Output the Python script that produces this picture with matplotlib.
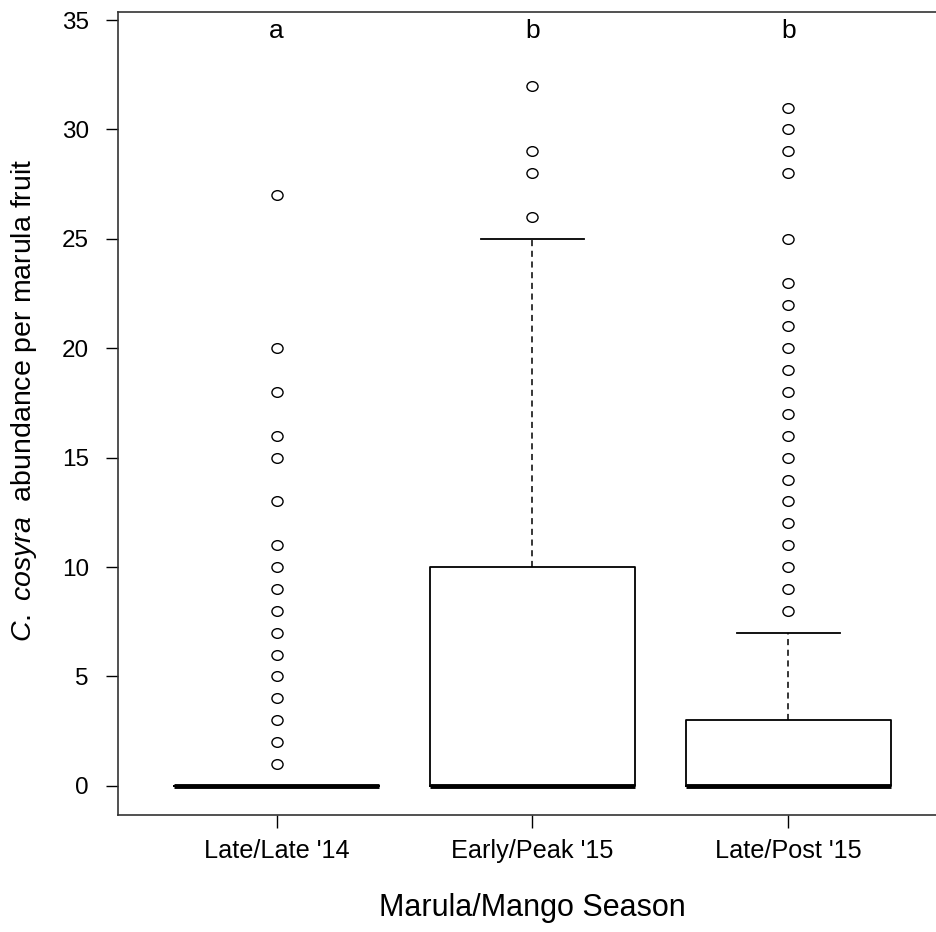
import matplotlib
matplotlib.use("Agg")
import matplotlib.pyplot as plt
from matplotlib.path import Path
from matplotlib.transforms import Affine2D

plt.rcParams['font.family'] = ['Liberation Sans', 'DejaVu Sans']
plt.rcParams['mathtext.fontset'] = 'custom'
plt.rcParams['mathtext.it'] = 'Liberation Sans:italic'
plt.rcParams['mathtext.rm'] = 'Liberation Sans'

categories = ["Late/Late '14", "Early/Peak '15", "Late/Post '15"]
q1 = [0, 0, 0]
medians = [0, 0, 0]
q3 = [0, 10, 3]
whisker_low = [0, 0, 0]
whisker_high = [0, 25, 7]
outliers = [
    [1, 2, 3, 4, 5, 6, 7, 8, 9, 10, 11, 13, 15, 16, 18, 20, 27],
    [26, 28, 29, 32],
    [8, 9, 10, 11, 12, 13, 14, 15, 16, 17, 18, 19, 20, 21, 22, 23, 25, 28, 29, 30, 31],
]
letters = ["a", "b", "b"]
letter_y = 34.5

fig = plt.figure(figsize=(9.37, 9.32), dpi=100)
W, H = 937, 932
left, right, bottom, top = 118, 947, 815, 12
ax = fig.add_axes([left / W, (H - bottom) / H, (right - left) / W, (bottom - top) / H])

stats = []
for i, c in enumerate(categories):
    stats.append(dict(label=c, q1=q1[i], med=medians[i], q3=q3[i],
                      whislo=whisker_low[i], whishi=whisker_high[i], fliers=outliers[i]))

ellipse = Path.unit_circle().transformed(Affine2D().scale(1.15, 1.0))

pos = list(range(1, len(categories) + 1))
ax.bxp(stats, positions=pos, widths=0.8, showfliers=True, patch_artist=False,
       boxprops=dict(color='black', linewidth=1.3),
       medianprops=dict(color='black', linewidth=3.5, solid_capstyle='butt'),
       whiskerprops=dict(color='black', linewidth=1.1, linestyle=(0, (4, 3))),
       capprops=dict(color='black', linewidth=1.3),
       capwidths=0.4,
       flierprops=dict(marker=ellipse, markerfacecolor='none', markeredgecolor='black',
                       markersize=8.0, markeredgewidth=1.0, linestyle='none'))

ax.set_xlim(0.38, 3.62)
ax.set_ylim(-1.33, 35.37)
ax.set_yticks([0, 5, 10, 15, 20, 25, 30, 35])
ax.set_xticks(pos)
ax.set_xticklabels(categories)
ax.tick_params(axis='both', direction='out', length=9, width=1.0, labelsize=17.5, colors='black')
ax.tick_params(axis='x', labelsize=18.2, pad=8)
ax.tick_params(axis='y', pad=12)

for s in ax.spines.values():
    s.set_linewidth(1.2)
    s.set_color('#333333')

for i, l in enumerate(letters):
    ax.text(pos[i], letter_y, l, ha='center', va='center', fontsize=19)

fig.text(24 / W, (H - 400) / H, r"$\it{C.\ cosyra}$  abundance per marula fruit",
         rotation=90, ha='center', va='center', fontsize=20.5)
fig.text(532 / W, (H - 908) / H, "Marula/Mango Season", ha='center', va='center', fontsize=22)

fig.savefig("out.png", dpi=100)
